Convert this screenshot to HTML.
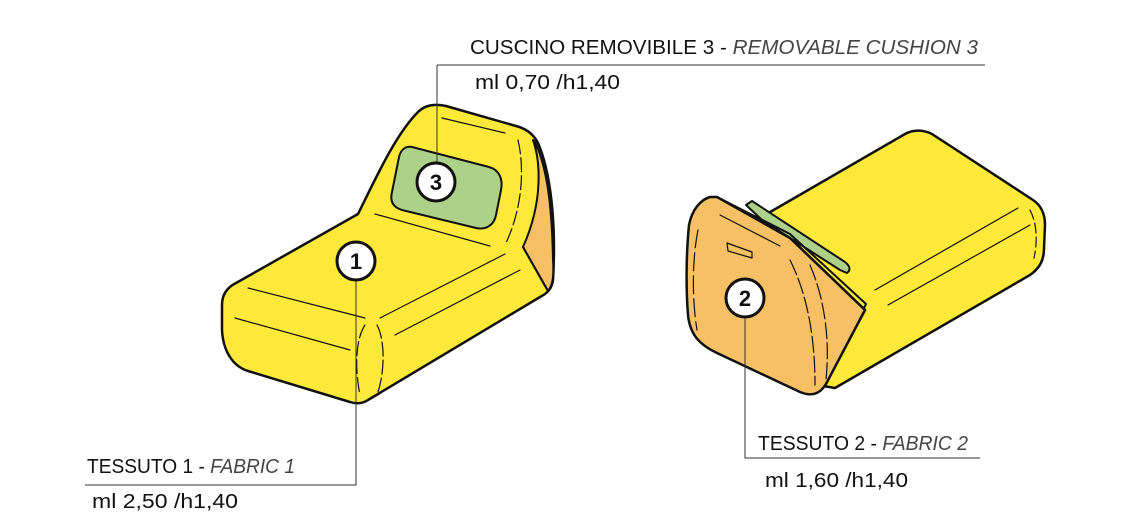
<!DOCTYPE html>
<html><head><meta charset="utf-8"><style>
html,body{margin:0;padding:0;background:#fff;}
svg{display:block;}
text{font-family:"Liberation Sans",sans-serif;font-size:20px;fill:#111;}
</style></head><body>
<svg width="1146" height="522" viewBox="0 0 1146 522" xmlns="http://www.w3.org/2000/svg">
<g stroke="#111" stroke-linejoin="round" stroke-linecap="round">
<!-- LEFT piece -->
<path d="M236,283 L358,214 C375,180 395,135 418,112 C426,104 436,104 446,106 L516,126 C528,129 536,136 540,148 C552,180 556,230 553,280 C552,288 548,293 540,297 L368,400 C362,404 356,404 350,402 L248,371 C232,366 223,350 222,330 L222,305 C222,294 228,287 236,283 Z" fill="#fde93a" stroke-width="2.5"/>
<path d="M533,140 C540,160 544,200 523,247 L548,291 C553,285 554,275 553,260 C552,210 548,170 535,142 Z" fill="#f7c065" stroke-width="2"/>
<path d="M523,247 L548,291" fill="none" stroke-width="2"/>
<path d="M412,147 L489,167 C500,170 503,180 501,190 L496,215 C494,226 485,230 476,228 L402,210 C392,207 390,200 392,192 L399,157 C401,149 406,146 412,147 Z" fill="#aed18a" stroke-width="2"/>
<g fill="none" stroke-width="1.2">
<path d="M375,214 L490,246"/><path d="M248,288 L365,318"/><path d="M235,318 L350,350"/>
<path d="M380,318 L505,254"/><path d="M395,335 L520,270"/>
<path d="M442,118 L505,133"/><path d="M518,140 C525,170 522,210 505,245" stroke-dasharray="14 4"/>
<path d="M365,325 C355,340 355,370 360,395" stroke-dasharray="14 4"/><path d="M377,325 C385,340 385,370 378,392" stroke-dasharray="14 4"/>
</g>
<!-- RIGHT piece body -->
<path d="M765,215 L905,134 C914,129 924,130 932,134 L1033,200 C1042,206 1045,215 1045,225 L1044,248 C1044,260 1040,268 1030,275 L835,388 L823,386 L865,310 L790,238 Z" fill="#fde93a" stroke-width="2.5"/>
<path d="M746,205 L752,201 L845,262 C850,266 851,270 847,273 L840,270 L762,220 Z" fill="#aed18a" stroke-width="2"/>
<path d="M717,197 L790,234 L866,304 L862,312" fill="none" stroke-width="2"/>
<path d="M710,197 C700,200 692,210 689,225 C686,255 686,290 688,315 C690,335 700,345 717,353 L800,392 C812,397 820,394 826,384 L865,310 L790,238 L717,197 Z" fill="#f7c065" stroke-width="2.5"/>
<g fill="none" stroke-width="1.2">
<path d="M720,215 L780,246"/><path d="M727,243 L752,252 L752,258 L728,251 Z"/>
<path d="M790,260 C805,290 815,330 815,385" stroke-dasharray="16 4"/><path d="M810,265 C825,300 830,340 826,380" stroke-dasharray="16 4"/>
<path d="M698,230 C692,260 692,300 697,330" stroke-dasharray="18 5"/>
<path d="M875,290 L1018,208"/><path d="M888,305 L1030,225"/>
<path d="M1030,210 C1038,225 1037,245 1034,258" stroke-dasharray="10 4"/>
</g>
</g>
<!-- leaders -->
<g stroke="#333" stroke-width="1" fill="none">
<path d="M437,65 L437,162 M437,65 L985,65"/>
<path d="M356,280 L356,485 L85,485"/>
<path d="M745,318 L745,458 L980,458"/>
</g>
<g stroke="#111" stroke-width="3" fill="#fff">
<circle cx="436" cy="182" r="19"/><circle cx="356" cy="261" r="19"/><circle cx="745" cy="298" r="19"/>
</g>
<text x="436" y="190" text-anchor="middle" style="font-size:22px;font-weight:bold">3</text>
<text x="356" y="269" text-anchor="middle" style="font-size:22px;font-weight:bold">1</text>
<text x="745" y="306" text-anchor="middle" style="font-size:22px;font-weight:bold">2</text>
<text x="470" y="54" textLength="508" lengthAdjust="spacingAndGlyphs">CUSCINO REMOVIBILE 3 - <tspan font-style="italic" fill="#444">REMOVABLE CUSHION 3</tspan></text>
<text x="475" y="89" textLength="145" lengthAdjust="spacingAndGlyphs">ml 0,70 /h1,40</text>
<text x="87" y="473" textLength="208" lengthAdjust="spacingAndGlyphs">TESSUTO 1 - <tspan font-style="italic" fill="#444">FABRIC 1</tspan></text>
<text x="92" y="508" textLength="146" lengthAdjust="spacingAndGlyphs">ml 2,50 /h1,40</text>
<text x="758" y="450" textLength="210" lengthAdjust="spacingAndGlyphs">TESSUTO 2 - <tspan font-style="italic" fill="#444">FABRIC 2</tspan></text>
<text x="765" y="487" textLength="143" lengthAdjust="spacingAndGlyphs">ml 1,60 /h1,40</text>
</svg>
</body></html>
